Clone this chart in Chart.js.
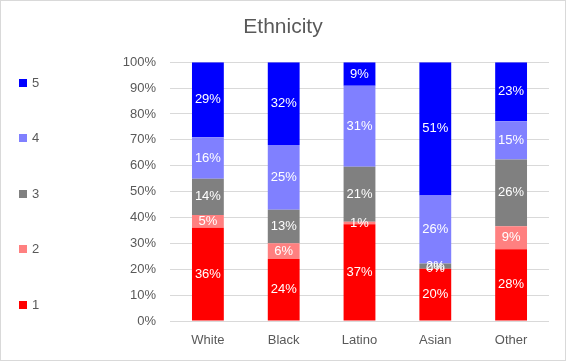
<!DOCTYPE html>
<html>
<head>
<meta charset="utf-8">
<script src="https://cdn.jsdelivr.net/npm/chart.js@4"></script>
<style>
  html, body { margin: 0; padding: 0; background: #fff; }
  .wrap { position: relative; width: 566px; height: 361px; box-sizing: border-box; border: 1px solid #d9d9d9; }
  canvas { position: absolute; left: 0; top: 0; }
  .legend { position: absolute; left: 18px; top: 0; font: 13px "Liberation Sans", Arial, sans-serif; color: #595959; }
  .legend div { position: absolute; white-space: nowrap; height: 16px; line-height: 16px; }
  .legend span { display: inline-block; width: 8px; height: 8px; margin-right: 5px; vertical-align: 0px; }
</style>
</head>
<body>
<div class="wrap">
  <canvas id="chart" width="564" height="359"></canvas>
  <div class="legend" id="legend"></div>
</div>
<script>
const categories = ['White', 'Black', 'Latino', 'Asian', 'Other'];
const seriesNames = ['1', '2', '3', '4', '5'];
const s1 = [36, 24, 37, 20, 28];
const s2 = [5, 6, 1, 0, 9];
const s3 = [14, 13, 21, 2, 26];
const s4 = [16, 25, 31, 26, 15];
const s5 = [29, 32, 9, 51, 23];
const colors = ['#ff0000', '#ff8080', '#808080', '#8080ff', '#0000ff'];
const yTicks = [0, 10, 20, 30, 40, 50, 60, 70, 80, 90, 100];

const series = [s1, s2, s3, s4, s5];
// 100% stacked: share of each category total
const totals = categories.map((c, i) => series.reduce((a, s) => a + s[i], 0));

const datasets = series.map((s, k) => ({
    label: seriesNames[k],
    data: s.map((v, i) => v / totals[i] * 100),
    raw: s,
    backgroundColor: colors[k],
    borderWidth: 0,
    barPercentage: 0.84,
    categoryPercentage: 0.5
}));

const labelPlugin = {
    id: 'segLabels',
    afterDatasetsDraw(chart) {
        const ctx = chart.ctx;
        ctx.save();
        ctx.font = '13px "Liberation Sans", Arial, sans-serif';
        ctx.fillStyle = '#ffffff';
        ctx.textAlign = 'center';
        ctx.textBaseline = 'middle';
        chart.data.datasets.forEach((ds, k) => {
            chart.getDatasetMeta(k).data.forEach((bar, i) => {
                const mid = (bar.y + bar.base) / 2;
                ctx.fillText(ds.raw[i] + '%', bar.x, mid);
            });
        });
        ctx.restore();
    }
};

const font13 = { size: 13, family: '"Liberation Sans", Arial, sans-serif' };

new Chart(document.getElementById('chart'), {
    type: 'bar',
    data: { labels: categories, datasets: datasets },
    options: {
        responsive: false,
        animation: false,
        layout: { padding: { left: 16, right: 16, top: 0, bottom: 0 } },
        scales: {
            x: {
                stacked: true,
                grid: { display: false, drawTicks: false },
                border: { display: false },
                ticks: { color: '#595959', font: font13, padding: 12 },
                afterFit: axis => { axis.height = 39; }
            },
            y: {
                stacked: true,
                min: 0,
                max: 100,
                afterBuildTicks: axis => { axis.ticks = yTicks.map(v => ({ value: v })); },
                grid: { color: '#d9d9d9', drawTicks: false },
                border: { display: false },
                ticks: {
                    color: '#595959',
                    font: font13,
                    padding: 14,
                    callback: v => v + '%'
                },
                afterFit: axis => { axis.width = 153; }
            }
        },
        plugins: {
            legend: { display: false },
            tooltip: { enabled: false },
            title: {
                display: true,
                text: 'Ethnicity',
                color: '#595959',
                font: { size: 21, weight: 'normal', family: '"Liberation Sans", Arial, sans-serif' },
                padding: { top: 14, bottom: 22 }
            }
        }
    },
    plugins: [labelPlugin]
});

// legend, top to bottom: 5 .. 1
const legend = document.getElementById('legend');
const legendY = [74, 129, 185, 240, 296];
seriesNames.slice().reverse().forEach((name, j) => {
    const k = seriesNames.length - 1 - j;
    const item = document.createElement('div');
    item.style.top = legendY[j] + 'px';
    item.innerHTML = '<span style="background:' + colors[k] + '"></span>' + name;
    legend.appendChild(item);
});
</script>
</body>
</html>
